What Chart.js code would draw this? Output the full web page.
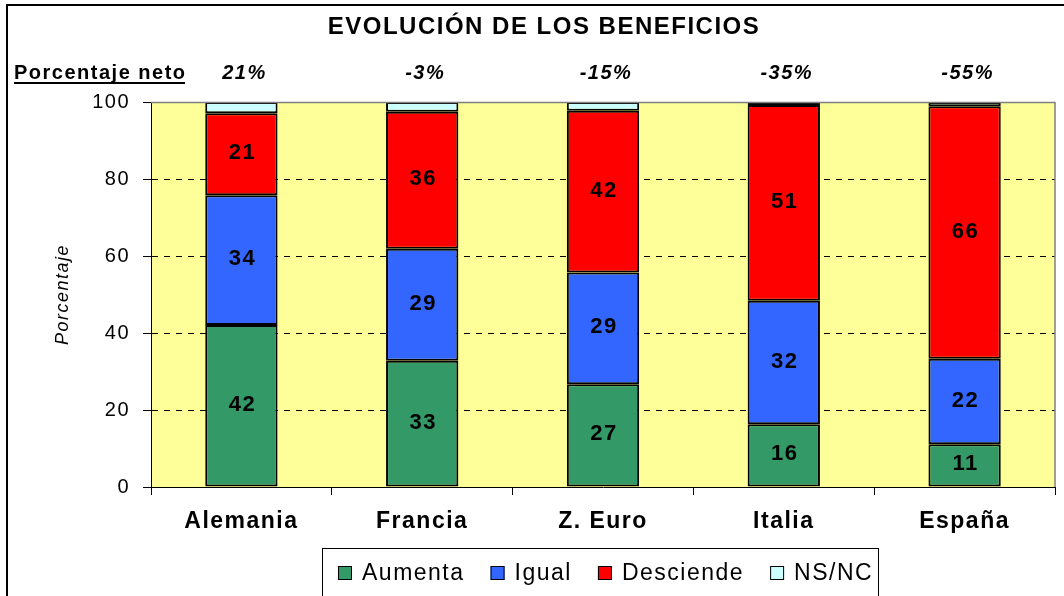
<!DOCTYPE html>
<html><head><meta charset="utf-8">
<script src="https://cdn.jsdelivr.net/npm/chart.js@4/dist/chart.umd.min.js"></script>
<style>html,body{margin:0;padding:0;background:#fff;overflow:hidden}#wrap{width:1064px;height:596px;position:relative}</style>
</head><body><div id="wrap"><canvas id="c" width="1064" height="596"></canvas></div>
<script>
const categories = ['Alemania', 'Francia', 'Z. Euro', 'Italia', 'España'];
const aumenta = [42.1, 32.8, 26.7, 16.3, 11.1];
const igual = [33.7, 29.1, 29.0, 32.1, 22.2];
const desciende = [21.3, 35.6, 42.0, 50.8, 65.6];
const nsnc = [2.9, 2.5, 2.3, 0.8, 1.1];
const netos = ['21%', '-3%', '-15%', '-35%', '-55%'];
const seriesNames = ['Aumenta', 'Igual', 'Desciende', 'NS/NC'];
const seriesColors = ['#339966', '#3366FF', '#FF0000', '#CCFFFF'];
const titleText = 'EVOLUCIÓN DE LOS BENEFICIOS';
const netoLabel = 'Porcentaje neto';
const yTitle = 'Porcentaje';
const yMin = 0, yMax = 100, yStep = 20;

const FF = "'Liberation Sans', Arial, sans-serif";
Chart.defaults.font.family = FF;
Chart.defaults.color = '#000';

const seriesData = [aumenta, igual, desciende, nsnc];
const datasets = seriesNames.map((n, i) => ({
  label: n,
  data: seriesData[i],
  backgroundColor: seriesColors[i],
  borderColor: '#000',
  borderWidth: 2,
  borderSkipped: false,
  barPercentage: 0.4,
  categoryPercentage: 1.0
}));

const frame = {
  id: 'frame',
  beforeDraw(chart) {
    const {ctx, chartArea: a} = chart;
    ctx.save();
    ctx.fillStyle = '#fff';
    ctx.fillRect(0, 0, chart.width, chart.height);
    ctx.fillStyle = '#FFFF99';
    ctx.fillRect(a.left, a.top, a.right - a.left, a.bottom - a.top);
    ctx.restore();
    ctx.letterSpacing = '1.5px';
  },
  afterDatasetsDraw(chart) {
    const ctx = chart.ctx;
    ctx.save();
    ctx.letterSpacing = '1.5px';
    ctx.font = 'bold 22px ' + FF;
    ctx.fillStyle = '#000';
    ctx.textAlign = 'center';
    ctx.textBaseline = 'middle';
    for (let d = 0; d < 3; d++) {
      const meta = chart.getDatasetMeta(d);
      meta.data.forEach((bar, i) => {
        const v = chart.data.datasets[d].data[i];
        ctx.fillText(String(Math.round(v)), bar.x + 1, (bar.y + bar.base) / 2 - 1);
      });
    }
    ctx.restore();
  },
  afterDraw(chart) {
    const {ctx, chartArea: a, scales: {x}} = chart;
    ctx.save();
    ctx.letterSpacing = '0px';
    // plot area top/right border
    ctx.strokeStyle = '#808080';
    ctx.lineWidth = 1.5;
    ctx.beginPath();
    ctx.moveTo(a.left, a.top + 0.5);
    ctx.lineTo(a.right, a.top + 0.5);
    ctx.lineTo(a.right, a.bottom);
    ctx.stroke();
    // outer frame
    ctx.fillStyle = '#000';
    ctx.fillRect(6, 4, 1064, 2);
    ctx.fillRect(6, 4, 2, 600);
    // title
    ctx.letterSpacing = '1.5px';
    ctx.fillStyle = '#000';
    ctx.textAlign = 'center';
    ctx.textBaseline = 'middle';
    ctx.font = 'bold 24px ' + FF;
    ctx.fillText(titleText, 544, 27);
    // neto label
    ctx.textAlign = 'left';
    ctx.font = 'bold 20px ' + FF;
    ctx.fillText(netoLabel, 14, 73);
    const w = ctx.measureText(netoLabel).width;
    ctx.fillRect(14, 82, w - 1.5, 2);
    // neto values
    ctx.textAlign = 'center';
    ctx.font = 'italic bold 20px ' + FF;
    netos.forEach((t, i) => ctx.fillText(t, x.getPixelForValue(i) + 3, 73));
    // legend
    ctx.strokeStyle = '#000';
    ctx.lineWidth = 1;
    ctx.strokeRect(322.5, 548.5, 556, 60);
    ctx.font = '23px ' + FF;
    ctx.textAlign = 'left';
    let lx = 338;
    seriesNames.forEach((n, i) => {
      ctx.fillStyle = seriesColors[i];
      ctx.fillRect(lx, 566, 14, 14);
      ctx.strokeStyle = '#000';
      ctx.strokeRect(lx + 0.5, 566.5, 13, 13);
      ctx.fillStyle = '#000';
      ctx.fillText(n, lx + 24, 574);
      lx += 24 + ctx.measureText(n).width + 26;
    });
    ctx.restore();
    ctx.letterSpacing = '0px';
  }
};

new Chart(document.getElementById('c'), {
  type: 'bar',
  data: {labels: categories, datasets},
  options: {
    responsive: false,
    devicePixelRatio: 1,
    animation: false,
    layout: {padding: {top: 102, right: 9, left: 0, bottom: 0}},
    plugins: {legend: {display: false}, title: {display: false}, tooltip: {enabled: false}},
    scales: {
      x: {
        stacked: true,
        offset: true,
        grid: {display: true, drawOnChartArea: false, drawTicks: true, tickLength: 8, tickColor: '#000', color: '#000', offset: true},
        border: {display: true, color: '#000', width: 1},
        ticks: {color: '#000', font: {size: 23, weight: 'bold'}, padding: 13, maxRotation: 0, autoSkip: false},
        afterFit(s) { s.height = 109; }
      },
      y: {
        stacked: true,
        min: yMin, max: yMax,
        ticks: {stepSize: yStep, color: '#000', font: {size: 20}, padding: 13},
        grid: {
          color: (c) => (c.tick && (c.tick.value === yMin || c.tick.value === yMax)) ? 'rgba(0,0,0,0)' : '#000',
          lineWidth: 1, tickLength: 8, tickColor: '#000', tickBorderDash: [], drawTicks: true
        },
        border: {display: true, color: '#000', width: 1, dash: [6, 6]},
        title: {display: true, text: yTitle, color: '#000', font: {size: 18, style: 'italic'}, padding: {top: 52, bottom: 0}},
        afterFit(s) { s.width = 151; }
      }
    }
  },
  plugins: [frame]
});
</script>
</body></html>
